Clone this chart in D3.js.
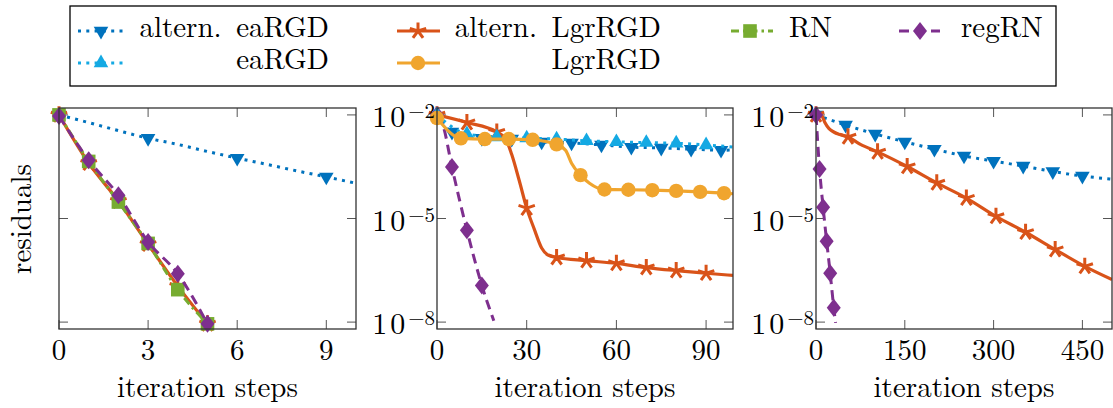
<!DOCTYPE html>
<html><head><meta charset="utf-8">
<script src="https://cdn.jsdelivr.net/npm/d3@7"></script>
<style>
body{margin:0;background:#fff}
svg{display:block}
</style>
</head><body>
<svg id="chart" width="1113" height="408"></svg>
<script>
// ---------------- DATA ----------------
// Panel 1 (iteration steps 0..10)
const p1_altEa_x = [0,1,2,3,4,5,6,7,8,9,10];
const p1_altEa_y = [1.0e-2,6.0e-3,3.5e-3,2.1e-3,1.4e-3,8.7e-4,5.6e-4,3.7e-4,2.4e-4,1.6e-4,1.05e-4];
const p1_altEa_marks = [0,3,6,9];
const p1_altLgr_x = [0,1,2,3,4,5];
const p1_altLgr_y = [1.0e-2,4.0e-4,3.2e-5,1.8e-6,1.1e-7,8.9e-9];
const p1_altLgr_marks = [0,1,2,3,4,5];
const p1_RN_x = [0,1,2,3,4,5];
const p1_RN_y = [1.0e-2,4.5e-4,3.0e-5,1.9e-6,8.7e-8,8.9e-9];
const p1_RN_marks = [0,1,2,3,4,5];
const p1_regRN_x = [0,1,2,3,4,5];
const p1_regRN_y = [9.3e-3,4.9e-4,4.7e-5,2.1e-6,2.5e-7,8.9e-9];
const p1_regRN_marks = [0,1,2,3,4,5];

// Panel 2 (iteration steps 0..99)
const p2_altEa_x = [0,5,15,25,35,45,55,65,75,85,95,99];
const p2_altEa_y = [1.0e-2,3.2e-3,2.1e-3,2.0e-3,1.66e-3,1.55e-3,1.35e-3,1.17e-3,1.1e-3,1.02e-3,9.5e-4,9.6e-4];
const p2_altEa_marks = [5,15,25,35,45,55,65,75,85,95];
const p2_ea_x = [0,10,20,30,40,50,60,70,80,90,99];
const p2_ea_y = [1.0e-2,2.8e-3,2.3e-3,2.14e-3,2.0e-3,1.78e-3,1.66e-3,1.58e-3,1.51e-3,1.35e-3,1.17e-3];
const p2_ea_marks = [0,10,20,30,40,50,60,70,80,90];
const p2_altLgr_x = [0,10,20,23,25,27.5,30,32.5,35,37,40,50,60,70,80,90,99];
const p2_altLgr_y = [1.0e-2,6.0e-3,3.2e-3,2.0e-3,7.1e-4,1.26e-4,2.0e-5,5.0e-6,1.4e-6,8.9e-7,7.4e-7,6.0e-7,5.0e-7,3.8e-7,3.1e-7,2.6e-7,2.24e-7];
const p2_altLgr_marks = [0,10,20,30,40,50,60,70,80,90];
const p2_Lgr_x = [0,8,16,24,32,40,43,45,48,51,56,64,72,80,88,96,99];
const p2_Lgr_y = [8.1e-3,2.1e-3,2.0e-3,2.0e-3,1.9e-3,1.4e-3,9.5e-4,4.0e-4,1.8e-4,1.05e-4,6.9e-5,6.8e-5,6.6e-5,6.3e-5,5.9e-5,5.4e-5,5.2e-5];
const p2_Lgr_marks = [0,8,16,24,32,40,48,56,64,72,80,88,96];
const p2_regRN_x = [0,2,5,10,15,19];
const p2_regRN_y = [1.0e-2,5.0e-3,3.1e-4,4.6e-6,1.15e-7,1.1e-8];
const p2_regRN_marks = [0,5,10,15];

// Panel 3 (iteration steps 0..500)
const p3_altEa_x = [0,50,100,150,200,250,300,350,400,450,500];
const p3_altEa_y = [1.0e-2,5.1e-3,2.8e-3,1.66e-3,1.02e-3,6.5e-4,4.6e-4,3.3e-4,2.3e-4,1.7e-4,1.38e-4];
const p3_altEa_marks = [0,50,100,150,200,250,300,350,400,450];
const p3_altLgr_x = [0,5,10,15,22,30,40,54,75,104,154,204,254,304,354,404,454,500];
const p3_altLgr_y = [1.0e-2,1.12e-2,9.5e-3,6.0e-3,4.0e-3,3.2e-3,2.7e-3,2.3e-3,1.4e-3,8.5e-4,3.2e-4,1.07e-4,3.9e-5,1.15e-5,4.0e-6,1.26e-6,4.1e-7,1.7e-7];
const p3_altLgr_marks = [0,54,104,154,204,254,304,354,404,454];
const p3_regRN_x = [0,6,12,18,24,30,33];
const p3_regRN_y = [1.0e-2,2.7e-4,2.1e-5,2.2e-6,2.6e-7,2.6e-8,9.5e-9];
const p3_regRN_marks = [0,6,12,18,24,30];

// Ticks & labels
const p1_xTicks = [0,3,6,9];
const p2_xTicks = [0,30,60,90];
const p3_xTicks = [0,150,300,450];
const yTickValues = [1e-2,1e-5,1e-8];
const yTickExponents = ["\u22122","\u22125","\u22128"];
const xAxisTitle = "iteration steps";
const yAxisTitle = "residuals";
const seriesNames = {altEa:"altern.\u2002eaRGD", ea:"eaRGD", altLgr:"altern.\u2002LgrRGD", Lgr:"LgrRGD", RN:"RN", regRN:"regRN"};

// ---------------- STYLE ----------------
const FONT = '"Latin Modern Roman"';
const FS = 29;
const styles = {
  altEa: {color:"#0072BD", dash:"3 5.3", width:3, marker:"tridown"},
  ea:    {color:"#14A9E3", dash:"3 5.3", width:3, marker:"triup"},
  altLgr:{color:"#D95319", dash:null, width:3.2, marker:"star"},
  Lgr:   {color:"#F0A52E", dash:null, width:3.2, marker:"circle"},
  RN:    {color:"#77AC30", dash:"8 4 2.5 4", width:3, marker:"square"},
  regRN: {color:"#7E2F8E", dash:"10 6", width:3, marker:"diamond"}
};

const svg = d3.select("#chart");
const yDomain = [Math.pow(10,-8.2), Math.pow(10,-1.8)];
const plotTop = 108, plotBottom = 329;

const panels = [
  {id:1, left:59, right:356, xDomain:[0,10], xTicks:p1_xTicks, yLabels:false,
   series:[
     {key:"altEa", x:p1_altEa_x, y:p1_altEa_y, marks:p1_altEa_marks},
     {key:"altLgr", x:p1_altLgr_x, y:p1_altLgr_y, marks:p1_altLgr_marks},
     {key:"RN", x:p1_RN_x, y:p1_RN_y, marks:p1_RN_marks},
     {key:"regRN", x:p1_regRN_x, y:p1_regRN_y, marks:p1_regRN_marks}
   ]},
  {id:2, left:437, right:733, xDomain:[0,99], xTicks:p2_xTicks, yLabels:true,
   series:[
     {key:"altEa", x:p2_altEa_x, y:p2_altEa_y, marks:p2_altEa_marks},
     {key:"altLgr", x:p2_altLgr_x, y:p2_altLgr_y, marks:p2_altLgr_marks},
     {key:"regRN", x:p2_regRN_x, y:p2_regRN_y, marks:p2_regRN_marks},
     {key:"ea", x:p2_ea_x, y:p2_ea_y, marks:p2_ea_marks},
     {key:"Lgr", x:p2_Lgr_x, y:p2_Lgr_y, marks:p2_Lgr_marks}
   ]},
  {id:3, left:816, right:1112, xDomain:[0,500], xTicks:p3_xTicks, yLabels:true,
   series:[
     {key:"altEa", x:p3_altEa_x, y:p3_altEa_y, marks:p3_altEa_marks},
     {key:"altLgr", x:p3_altLgr_x, y:p3_altLgr_y, marks:p3_altLgr_marks},
     {key:"regRN", x:p3_regRN_x, y:p3_regRN_y, marks:p3_regRN_marks}
   ]}
];

function addText(g, x, y, size, str, anchor) {
  const t = g.append("text").attr("x", x).attr("y", y)
    .style("font-family", FONT).style("font-size", size + "px")
    .attr("fill", "#000").attr("text-anchor", anchor || "start");
  if (str !== null) t.text(str);
  return t;
}

function drawMarker(g, type, cx, cy, color) {
  if (type === "tridown") {
    g.append("path").attr("d", `M${cx},${cy+8.4}L${cx-7.3},${cy-4.2}L${cx+7.3},${cy-4.2}Z`).attr("fill", color);
  } else if (type === "triup") {
    g.append("path").attr("d", `M${cx},${cy-8.4}L${cx-7.3},${cy+4.2}L${cx+7.3},${cy+4.2}Z`).attr("fill", color);
  } else if (type === "circle") {
    g.append("circle").attr("cx", cx).attr("cy", cy).attr("r", 7.2).attr("fill", color);
  } else if (type === "square") {
    g.append("rect").attr("x", cx-6.8).attr("y", cy-6.8).attr("width", 13.6).attr("height", 13.6).attr("fill", color);
  } else if (type === "diamond") {
    g.append("path").attr("d", `M${cx},${cy-9}L${cx+7},${cy}L${cx},${cy+9}L${cx-7},${cy}Z`).attr("fill", color);
  } else if (type === "star") {
    let d = "";
    for (let k = 0; k < 5; k++) {
      const a = (90 + 72*k) * Math.PI/180;
      d += `M${cx},${cy}L${cx + 8.6*Math.cos(a)},${cy - 8.6*Math.sin(a)}`;
    }
    g.append("path").attr("d", d).attr("stroke", color).attr("stroke-width", 3).attr("fill", "none");
  }
}

panels.forEach(p => {
  const x = d3.scaleLinear().domain(p.xDomain).range([p.left, p.right]);
  const y = d3.scaleLog().domain(yDomain).range([plotBottom, plotTop]);
  const g = svg.append("g");
  const clipId = "clip" + p.id;
  svg.append("clipPath").attr("id", clipId).append("rect")
    .attr("x", p.left).attr("y", plotTop).attr("width", p.right - p.left).attr("height", plotBottom - plotTop);

  // ticks (inward, all four sides)
  const tl = 9;
  const tg = g.append("g").attr("stroke", "#555").attr("stroke-width", 1);
  p.xTicks.forEach(t => {
    const xx = x(t);
    tg.append("line").attr("x1", xx).attr("x2", xx).attr("y1", plotBottom).attr("y2", plotBottom - tl);
    tg.append("line").attr("x1", xx).attr("x2", xx).attr("y1", plotTop).attr("y2", plotTop + tl);
  });
  yTickValues.forEach(t => {
    const yy = y(t);
    tg.append("line").attr("x1", p.left).attr("x2", p.left + tl).attr("y1", yy).attr("y2", yy);
    tg.append("line").attr("x1", p.right).attr("x2", p.right - tl).attr("y1", yy).attr("y2", yy);
  });

  // series
  const line = d3.line().x(d => x(d[0])).y(d => y(d[1])).curve(d3.curveMonotoneX);
  const sg = g.append("g");
  p.series.forEach(s => {
    const st = styles[s.key];
    const pts = s.x.map((v, i) => [v, s.y[i]]);
    sg.append("path").datum(pts).attr("d", line)
      .attr("fill", "none").attr("stroke", st.color).attr("stroke-width", st.width)
      .attr("stroke-dasharray", st.dash).attr("stroke-linejoin", "round")
      .attr("clip-path", `url(#${clipId})`);
    const mg = sg.append("g");
    s.marks.forEach(m => {
      const i = s.x.indexOf(m);
      if (i >= 0) drawMarker(mg, st.marker, x(m), y(s.y[i]), st.color);
    });
  });

  // frame
  g.append("rect").attr("x", p.left).attr("y", plotTop)
    .attr("width", p.right - p.left).attr("height", plotBottom - plotTop)
    .attr("fill", "none").attr("stroke", "#333").attr("stroke-width", 1.3);

  // x tick labels
  p.xTicks.forEach(t => addText(g, x(t), 360, FS, d3.format("d")(t), "middle"));
  // y tick labels
  if (p.yLabels) {
    yTickValues.forEach((t, i) => {
      const tx = addText(g, p.left - 2, y(t) + 12, 30, null, "end");
      tx.append("tspan").style("letter-spacing", "3px").text("10");
      tx.append("tspan").style("font-size", "21px").attr("dy", -9).text(yTickExponents[i]);
    });
  }
  // x axis title
  addText(g, (p.left + p.right)/2, 397, FS, xAxisTitle, "middle");
});

// y axis title
addText(svg, 0, 0, FS, yAxisTitle, "middle").attr("transform", "translate(31,219) rotate(-90)");

// ---------------- LEGEND ----------------
const lg = svg.append("g");
lg.append("rect").attr("x", 70).attr("y", 6).attr("width", 986).attr("height", 80)
  .attr("fill", "#fff").attr("stroke", "#000").attr("stroke-width", 1.3);
const legendItems = [
  {key:"altEa", lx0:78, lx1:125, mx:101, row:0, endX:329},
  {key:"ea", lx0:78, lx1:125, mx:101, row:1, endX:329},
  {key:"altLgr", lx0:397, lx1:440, mx:418, row:0, endX:661},
  {key:"Lgr", lx0:397, lx1:440, mx:418, row:1, endX:661},
  {key:"RN", lx0:731, lx1:773, mx:750, row:0, startX:789},
  {key:"regRN", lx0:899, lx1:940, mx:920, row:0, startX:961}
];
const rowY = [31, 63];
legendItems.forEach(it => {
  const st = styles[it.key];
  const yy = rowY[it.row];
  lg.append("line").attr("x1", it.lx0).attr("x2", it.lx1).attr("y1", yy).attr("y2", yy)
    .attr("stroke", st.color).attr("stroke-width", st.width).attr("stroke-dasharray", st.dash);
  drawMarker(lg, st.marker, it.mx, yy, st.color);
  const name = seriesNames[it.key];
  if (it.startX !== undefined) addText(lg, it.startX, yy + 6, FS, name, "start");
  else addText(lg, it.endX, yy + 6, FS, name, "end");
});
</script>
</body></html>
